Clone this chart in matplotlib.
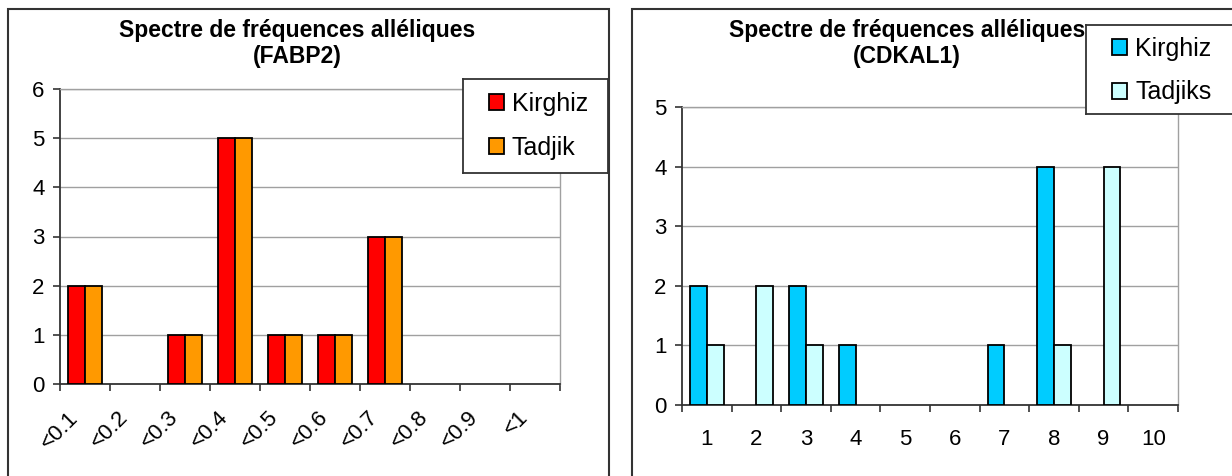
import matplotlib.pyplot as plt
from matplotlib.patches import Rectangle
from matplotlib.transforms import ScaledTranslation
import numpy as np

# data
fabp2_labels = ["<0.1", "<0.2", "<0.3", "<0.4", "<0.5", "<0.6", "<0.7", "<0.8", "<0.9", "<1"]
fabp2_kirghiz = [2, 0, 1, 5, 1, 1, 3, 0, 0, 0]
fabp2_tadjik = [2, 0, 1, 5, 1, 1, 3, 0, 0, 0]

cdkal1_labels = ["1", "2", "3", "4", "5", "6", "7", "8", "9", "10"]
cdkal1_kirghiz = [2, 0, 2, 1, 0, 0, 1, 4, 0, 0]
cdkal1_tadjiks = [1, 2, 1, 0, 0, 0, 0, 1, 4, 0]

plt.rcParams['font.family'] = ['Liberation Sans', 'DejaVu Sans']

W, H = 1232, 476
fig = plt.figure(figsize=(W / 100, H / 100), dpi=100)


def px_axes(x0, y0, x1, y1):
    # pixel box (top-left origin) -> figure axes
    return fig.add_axes([x0 / W, 1 - y1 / H, (x1 - x0) / W, (y1 - y0) / H])


def box(x0, y0, x1, y1, lw=1.5):
    fig.patches.append(Rectangle((x0 / W, 1 - y1 / H), (x1 - x0) / W, (y1 - y0) / H,
                                 transform=fig.transFigure, fill=False,
                                 edgecolor='#333333', linewidth=lw))


def draw(ax, labels, s1, s2, c1, c2, ymax, rotated):
    n = len(labels)
    x = np.arange(n)
    bw = 0.34
    ax.bar(x - bw / 2, s1, bw, color=c1, edgecolor='black',
           linewidth=[1.3 if v else 0 for v in s1], zorder=3)
    ax.bar(x + bw / 2, s2, bw, color=c2, edgecolor='black',
           linewidth=[1.3 if v else 0 for v in s2], zorder=3)
    ax.set_xlim(-0.5, n - 0.5)
    ax.set_ylim(0, ymax)
    ax.set_yticks(range(ymax + 1))
    ax.yaxis.grid(True, color='#a0a0a0', linewidth=1.0, zorder=0)
    ax.set_xticks(np.arange(n + 1) - 0.5)
    ax.set_xticklabels([])
    ax.set_xticks(x, minor=True)
    ax.tick_params(axis='x', which='minor', length=0)
    ax.tick_params(axis='x', which='major', length=5, width=1.2, color='#333333', direction='out')
    ax.tick_params(axis='y', length=5, width=1.2, color='#333333', labelsize=16, pad=6)
    if rotated:
        ax.set_xticklabels(labels, minor=True, rotation=45, ha='right', va='center',
                           rotation_mode='anchor', fontsize=16)
        ax.tick_params(axis='x', which='minor', pad=22)
        off = ScaledTranslation(-10 / 100, 0, fig.dpi_scale_trans)
        for lab in ax.get_xticklabels(minor=True):
            lab.set_transform(lab.get_transform() + off)
    else:
        ax.set_xticklabels(labels, minor=True, fontsize=16)
        ax.tick_params(axis='x', which='minor', pad=17)
    for side in ['left', 'bottom']:
        ax.spines[side].set_color('#333333')
        ax.spines[side].set_linewidth(1.3)
    for side in ['top', 'right']:
        ax.spines[side].set_color('#a0a0a0')
        ax.spines[side].set_linewidth(1.0)
    ax.set_zorder(2)


def legend(ax, names, x0, y0, x1, y1, hx, row1):
    # white box with frame, entries placed inside
    ax_box = fig.add_axes([x0 / W, 1 - y1 / H, (x1 - x0) / W, (y1 - y0) / H])
    ax_box.set_xticks([])
    ax_box.set_yticks([])
    for s in ax_box.spines.values():
        s.set_color('#333333')
        s.set_linewidth(1.3)
    ax_box.set_zorder(5)
    bars = [c.patches[0] for c in ax.containers]
    leg = ax_box.legend(bars, names, loc='upper left',
                        bbox_to_anchor=(hx / W, 1 - (row1 - 10) / H),
                        bbox_transform=fig.transFigure, fontsize=18, frameon=False,
                        handlelength=0.6, handleheight=0.6, handletextpad=0.32,
                        labelspacing=0.78, borderpad=0, borderaxespad=0)
    for h in leg.legend_handles:
        h.set_linewidth(1.3)
    return leg


# left panel
box(8, 9, 609, 490)
ax1 = px_axes(60, 89, 560, 384)
draw(ax1, fabp2_labels, fabp2_kirghiz, fabp2_tadjik, '#ff0000', '#ff9900', 6, True)
fig.text(297 / W, 1 - 31 / H, "Spectre de fréquences alléliques", ha='center', va='center',
         fontsize=16.5, fontweight='bold')
fig.text(297 / W, 1 - 57 / H, "(FABP2)", ha='center', va='center', fontsize=16.5, fontweight='bold')
legend(ax1, ['Kirghiz', 'Tadjik'], 463, 79, 608, 173, 489, 102)

# right panel
box(632, 9, 1250, 490)
ax2 = px_axes(682, 107, 1178, 405)
draw(ax2, cdkal1_labels, cdkal1_kirghiz, cdkal1_tadjiks, '#00ccff', '#ccffff', 5, False)
fig.text(907 / W, 1 - 31 / H, "Spectre de fréquences alléliques", ha='center', va='center',
         fontsize=16.5, fontweight='bold')
fig.text(907 / W, 1 - 57 / H, "(CDKAL1)", ha='center', va='center', fontsize=16.5, fontweight='bold')
legend(ax2, ['Kirghiz', 'Tadjiks'], 1086, 25, 1245, 114, 1112, 47)

fig.savefig('out.png', dpi=100)
